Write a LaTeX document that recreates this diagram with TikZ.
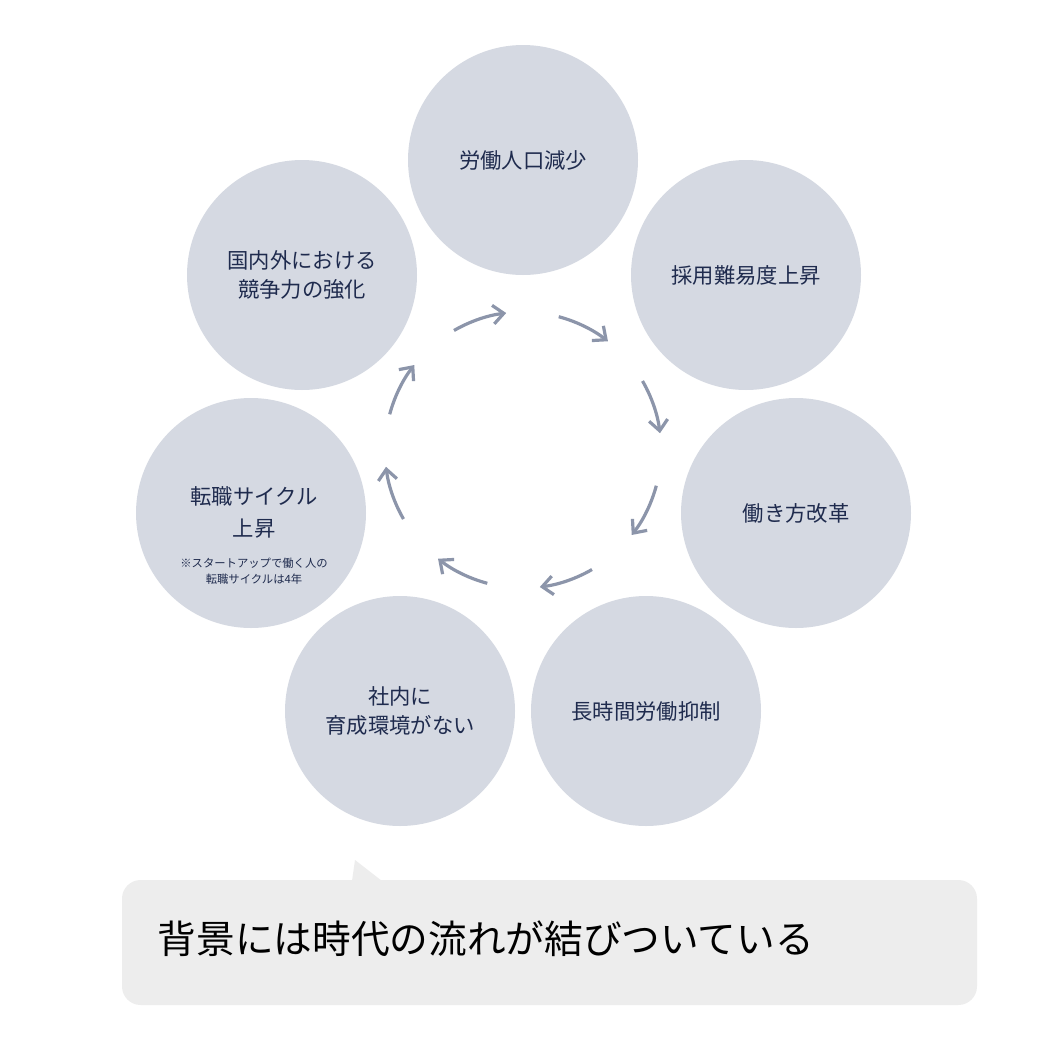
\documentclass[tikz,border=0pt]{standalone}
\usepackage{fontspec}
\setmainfont{Noto Sans CJK JP}
\usetikzlibrary{arrows.meta,calc}
\definecolor{cfill}{HTML}{D5D9E2}
\definecolor{ctext}{HTML}{1F2B4E}
\definecolor{arr}{HTML}{8C95AA}
\definecolor{bub}{HTML}{EDEDED}
\begin{document}
\begin{tikzpicture}[x=0.75pt,y=-0.75pt,
  circ/.style={circle,fill=cfill,minimum size=230*0.75pt,inner sep=0pt,text=ctext,align=center,font=\fontsize{16}{22}\selectfont},
  arrw/.style={draw=arr,line width=2.4pt,-{Straight Barb[length=8pt,width=14pt,line width=2.4pt]}}]
\useasboundingbox (0,0) rectangle (1058,1060);
\fill[white] (0,0) rectangle (1058,1060);
\node[circ] (c1) at (523,160) {労働人口減少};
\node[circ] (c2) at (746,275) {採用難易度上昇};
\node[circ] (c3) at (796,513) {働き方改革};
\node[circ] (c4) at (646,711) {長時間労働抑制};
\node[circ] (c5) at (400,711) {社内に\\育成環境がない};
\node[circ] (c6) at (251,513) {};
\node[circ] (c7) at (302,275) {国内外における\\競争力の強化};
\node[text=ctext,align=center,font=\fontsize{16}{24}\selectfont] (t6) at (254,512) {転職サイクル\\上昇};
\node[text=ctext,align=center,font=\fontsize{8.5}{12}\selectfont] (s6) at (254,571) {※スタートアップで働く人の\\転職サイクルは4年};
\coordinate (o) at (523,450);
\foreach \a in {120,75,30,-15,-60,-105,-150,165}{
  \draw[arrw] ($(o)+(\a:138 and -138)$) arc[start angle=\a,end angle=\a-23,x radius=138,y radius=-138];
}
\fill[bub,rounded corners=14pt] (122,880) rectangle (977,1005);
\fill[bub] (355,860) -- (382,881) -- (352,881) -- cycle;
\node[font=\fontsize{29}{34}\selectfont,text=black,anchor=west] (b) at (153,939) {背景には時代の流れが結びついている};
\end{tikzpicture}
\end{document}
